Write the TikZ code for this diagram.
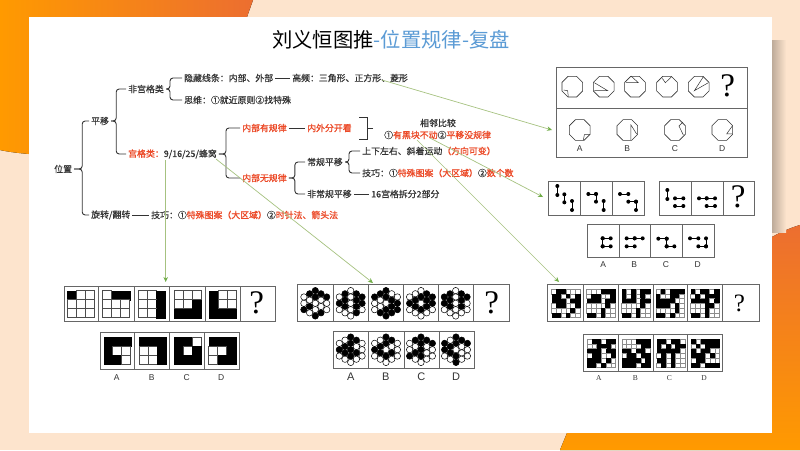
\documentclass[tikz,border=0pt]{standalone}
\usepackage{fontspec}
\usepackage{xcolor}
\setmainfont{Noto Sans CJK SC}
\newfontfamily\medfont{Noto Sans CJK SC}[RawFeature={embolden=0.5}]
\newfontfamily\strongfont{Noto Sans CJK SC}[RawFeature={embolden=1.1}]
\newfontfamily\latinfont{Liberation Sans}
\newfontfamily\seriffont{Liberation Serif}
\usetikzlibrary{arrows.meta,positioning,shapes.geometric}

\definecolor{peach}{HTML}{FDE4CD}
\definecolor{orangeA}{HTML}{FF9A00}
\definecolor{orangeB}{HTML}{EC6E30}
\definecolor{redtxt}{HTML}{EC4A28}
\definecolor{darktxt}{HTML}{333333}
\definecolor{bluetxt}{HTML}{5B9BD5}
\definecolor{greenline}{HTML}{A6C280}
\definecolor{greentip}{HTML}{70AD47}

\newcommand{\hl}[1]{{\color{redtxt}\strongfont\fontsize{8.9}{10}\selectfont #1}}
\def\gridcol{black!70}
% black and white cells, one list per row
\newcommand{\bwgrid}[4]{
	\foreach \rowbits [count=\ry from 0] in {#4}
	\foreach \b [count=\cx from 0] in \rowbits {
		\ifnum\b=1
		\draw[black,fill=black,line width=0.4pt] ({#1+\cx*#3},{#2+\ry*#3}) rectangle ++(#3,#3);
		\else
		\draw[\gridcol,fill=white,line width=0.5pt] ({#1+\cx*#3},{#2+\ry*#3}) rectangle ++(#3,#3);
		\fi
	}
}
% hexagon of 19 discs, one list per column
\newcommand{\hexdots}[3]{
	\foreach \col [count=\k from -2] in {#3}
	\foreach \b [count=\j from 0] in \col {
		\ifnum\b=1
		\filldraw[black,line width=0.5pt] ({#1+\k*5.7},{#2+(\j-(4-abs(\k))/2)*6.35}) circle (3.2);
		\else
		\draw[black,fill=white,line width=0.5pt] ({#1+\k*5.7},{#2+(\j-(4-abs(\k))/2)*6.35}) circle (3.2);
		\fi
	}
}

\begin{document}
\begin{tikzpicture}[x=1pt,y=-1pt,
	lab/.style={anchor=west,inner sep=2pt,text=darktxt,font=\medfont\fontsize{8.9}{10}\selectfont},
	redlab/.style={lab,text=redtxt,font=\strongfont\fontsize{8.9}{10}\selectfont},
	branch/.style={draw=darktxt,line width=0.9pt,rounded corners=3pt},
	pointer/.style={draw=greenline,line width=0.7pt,-{Stealth[length=5pt,width=4.5pt,color=greentip]}},
	panel/.style={draw=black!60,line width=1pt,fill=white,anchor=north west,inner sep=0pt,outer sep=0pt},
	pline/.style={draw=black!60,line width=1pt},
	octa/.style={draw=black!80,regular polygon,regular polygon sides=8,minimum size=22.4pt,inner sep=0pt,line width=0.6pt},
	octline/.style={draw=black!80,line width=0.5pt},
	dotseg/.style={draw=black,line width=0.7pt},
	qmark/.style={inner sep=0pt,font=\seriffont\fontsize{33}{33}\selectfont},
	optlab/.style={inner sep=0pt,text=darktxt,font=\latinfont\fontsize{8.5}{9}\selectfont}]

	\useasboundingbox (0,0) rectangle (800,450);

	% The background
	\fill[peach] (0,0) rectangle (800,450);
	\fill[left color=orangeA,right color=orangeB] (0,0) -- (253,0) -- (247,17) -- (29,17) -- (29,154) .. controls (18,153) and (9,152) .. (0,150) -- cycle;
	\fill[top color=orangeB,bottom color=orangeA] (772,237) .. controls (781,232) and (790,228) .. (800,225) -- (800,450) -- (560,450) -- (567,433) -- (772,433) -- cycle;
	\fill[left color=black!25!peach,right color=peach] (772,40) rectangle (786,232);
	\fill[white] (29,17) rectangle (772,433);

	% The title
	\node [inner sep=0pt,font=\fontsize{20.3}{24}\selectfont] at (391,40) (title) {刘义恒图推{\color{bluetxt}-位置规律-复盘}};

	% The tree
	\node [lab] at (52,169) (weizhi) {位置};
	\node [lab] at (89,121) (pingyi) {平移};
	\node [lab] at (89,215) (xuanzhuan) {旋转/翻转};
	\node [lab] at (149,215) (jq1) {技巧：①\hl{特殊图案（大区域）}②\hl{时针法、箭头法}};
	\node [lab] at (126,89) (feigong) {非宫格类};
	\node [lab] at (126,154) (gong) {\hl{宫格类：}9/16/25/蜂窝};
	\node [lab] at (182,78) (yincang) {隐藏线条：内部、外部};
	\node [lab] at (290,78) (gaopin) {高频：三角形、正方形、菱形};
	\node [lab] at (182,100) (siwei) {思维：①就近原则②找特殊};
	\node [redlab] at (240,128) (youguilv) {内部有规律};
	\node [redlab] at (305,128) (neiwai) {内外分开看};
	\node [redlab] at (240,178) (wuguilv) {内部无规律};
	\node [lab] at (305,162) (changgui) {常规平移};
	\node [lab] at (305,194) (feichang) {非常规平移};
	\node [lab] at (369,194) (chaifen) {16宫格拆分2部分};
	\node [lab] at (360,151) (shangxia) {上下左右、斜着运动\hl{（方向可变）}};
	\node [lab] at (360,173) (jq2) {技巧：①\hl{特殊图案（大区域）}②\hl{数个数}};
	\node [lab,anchor=center,font=\strongfont\fontsize{8.9}{10}\selectfont] at (438,123) (xianglin) {相邻比较};
	\node [lab] at (382,135) (heikuai) {①\hl{有黑块不动}②\hl{平移没规律}};

	% Tree edges
	\draw[branch] (weizhi.east) -- ++(8,0) |- (pingyi.west);
	\draw[branch] (weizhi.east) -- ++(8,0) |- (xuanzhuan.west);
	\draw[branch] (pingyi.east) -- ++(5,0) |- (feigong.west);
	\draw[branch] (pingyi.east) -- ++(5,0) |- (gong.west);
	\draw[branch] (feigong.east) -- ++(4,0) |- (yincang.west);
	\draw[branch] (feigong.east) -- ++(4,0) |- (siwei.west);
	\draw[branch] (gong.east) -- ++(7,0) |- (youguilv.west);
	\draw[branch] (gong.east) -- ++(7,0) |- (wuguilv.west);
	\draw[branch] (wuguilv.east) -- ++(6,0) |- (changgui.west);
	\draw[branch] (wuguilv.east) -- ++(6,0) |- (feichang.west);
	\draw[branch] (changgui.east) -- ++(4,0) |- (shangxia.west);
	\draw[branch] (changgui.east) -- ++(4,0) |- (jq2.west);
	\path[draw=darktxt,line width=0.9pt]
	(yincang) edge (gaopin)
	(youguilv) edge (neiwai)
	(feichang) edge (chaifen)
	(xuanzhuan) edge (jq1);

	% The square bracket
	\coordinate (kuoT) at (359,117);
	\coordinate (kuoB) at (359,139);
	\coordinate (kuoM) at (373,128);
	\draw[draw=darktxt,line width=0.9pt] (kuoT) -- ++(8,0) |- (kuoB);
	\draw[draw=darktxt,line width=0.9pt] (kuoM) -- ++(-6,0);

	% Panel with the octagons
	\node [panel,minimum width=191pt,minimum height=90pt] at (556,67) (pOct) {};
	\draw[pline] (pOct.west |- 0,108) -- (pOct.east |- 0,108);
	\foreach \n/\x in {1/572.3,2/603.7,3/635,4/667,5/698.7}
	\node [octa] at (\x,86.7) (o\n) {};
	\foreach \x/\t in {579.7/A,627.3/B,675/C,722.3/D} {
		\node [octa] at (\x,130) (oct\t) {};
		\node [optlab] at (\x,149) (lab\t) {\t};
	}
	\node [qmark] at (727.7,86) (qOct) {?};
	\draw[octline,shift={(572.3,86.7)},scale=0.333] (-26,10) -- (-14,12) -- (-12,30);
	\draw[octline,shift={(603.7,86.7)},scale=0.333] (-28,-12) -- (12,12) -- (-28,12);
	\draw[octline,shift={(635,86.7)},scale=0.333] (-27,-12) -- (10,-12) -- (-12,-32);
	\draw[octline,shift={(667,86.7)},scale=0.333] (-14,-25) -- (-5,-12) -- (14,-30);
	\draw[octline,shift={(698.7,86.7)},scale=0.333] (14,-30) -- (-13,12) -- (29,-12);
	\draw[octline,shift={(579.7,130)},scale=0.333] (11,30) -- (14,14) -- (31,14);
	\draw[octline,shift={(627.3,130)},scale=0.333] (11,30) -- (11,-15) -- (28,12);
	\draw[octline,shift={(675,130)},scale=0.333] (24,-24) -- (12,-12) -- (25,15);
	\draw[octline,shift={(722.3,130)},scale=0.333] (30,-12) -- (13,12) -- (30,12);

	% Panels with the dotted sticks
	\node [panel,minimum width=95.3pt,minimum height=33.3pt] at (548.7,181.7) (pStickA) {};
	\node [panel,minimum width=95.4pt,minimum height=33.3pt] at (659.3,181.7) (pStickB) {};
	\node [panel,minimum width=126.6pt,minimum height=32.7pt] at (587.7,224.3) (pStickC) {};
	\foreach \x in {580.7,612.3,691,723}
	\draw[pline] (\x,181.7) -- (\x,215);
	\foreach \x in {619,650.7,682.7}
	\draw[pline] (\x,224.3) -- (\x,257);
	\node [qmark] at (738.3,197) (qStick) {?};
	\foreach \x/\t in {603.3/A,634.3/B,666/C,697.7/D}
	\node [optlab] at (\x,264.7) (stick\t) {\t};
	\foreach \a/\e/\c/\d in {52/33/52/60,73/58/73/82,96/78/96/105,
		145/57/168/57,168/57/168/80,191/78/191/105,
		240/57/265/57,265/80/288/80,288/80/288/105,
		382/45/382/72,405/70/430/70,405/93/430/93,
		477/70/500/70,500/70/525/70,500/93/525/93,
		188/190/212/190,188/190/188/214,188/214/212/214,
		260/190/284/190,284/190/308/190,260/214/284/214,
		355/191/380/191,380/191/380/214,380/214/403/214,
		450/190/475/190,498/190/498/214,475/214/498/214} {
		\draw[dotseg] ({540+\a/3},{175+\e/3}) -- ({540+\c/3},{175+\d/3});
		\fill[black] ({540+\a/3},{175+\e/3}) circle (2);
		\fill[black] ({540+\c/3},{175+\d/3}) circle (2);
	}

	% Panels with the 3x3 grids
	\node [panel,minimum width=211pt,minimum height=35pt] at (64,286.7) (pGridT) {};
	\node [panel,minimum width=139pt,minimum height=36.7pt] at (100,332.3) (pGridB) {};
	\foreach \x in {98.3,134,169.7,205.3,240}
	\draw[pline] (\x,286.7) -- (\x,321.7);
	\foreach \x in {134.3,169.3,204.7}
	\draw[pline] (\x,332.3) -- (\x,369);
	\bwgrid{67.3}{290.7}{9}{{1,0,0},{0,0,0},{0,0,0}}
	\bwgrid{102.7}{290.7}{9}{{0,1,1},{0,0,0},{0,0,0}}
	\bwgrid{138.3}{290.7}{9}{{0,0,1},{0,0,1},{0,0,1}}
	\bwgrid{174}{290.7}{9}{{0,0,0},{0,0,1},{1,1,1}}
	\bwgrid{209.3}{290.7}{9}{{1,0,0},{1,0,0},{1,1,1}}
	\bwgrid{103.7}{337.3}{9}{{1,1,1},{1,0,0},{1,1,0}}
	\bwgrid{139}{337.3}{9}{{1,1,1},{0,0,1},{0,0,1}}
	\bwgrid{174}{337.3}{9}{{1,1,0},{1,0,1},{1,1,1}}
	\bwgrid{208.7}{337.3}{9}{{1,1,1},{0,0,1},{0,1,1}}
	\node [qmark] at (256.7,303) (qGrid) {?};
	\foreach \x/\t in {116.7/A,151.7/B,186.7/C,221.3/D}
	\node [optlab] at (\x,377.7) (grid\t) {\t};

	% Panels with the hexagons
	\node [panel,minimum width=211.3pt,minimum height=37pt] at (297.7,284.7) (pHexT) {};
	\node [panel,minimum width=141pt,minimum height=37.3pt] at (333.3,331) (pHexB) {};
	\foreach \x in {333.3,368.3,403.7,438.7,473.7}
	\draw[pline] (\x,284.7) -- (\x,321.7);
	\foreach \x in {368.7,404,439}
	\draw[pline] (\x,331) -- (\x,368.3);
	\hexdots{315.3}{303.3}{{0,0,1},{1,0,1,0},{1,1,0,0,1},{1,0,0,1},{1,0,0}}
	\hexdots{350.7}{303.3}{{0,1,0},{1,1,1,0},{0,0,0,0,0},{1,1,1,1},{1,1,0}}
	\hexdots{386}{303.3}{{1,0,0},{1,0,0,1},{1,1,0,1,1},{0,1,1,1},{0,1,1}}
	\hexdots{421}{303.3}{{0,1,0},{0,1,1,0},{0,1,0,1,0},{1,1,1,0},{1,1,0}}
	\hexdots{455.7}{303.3}{{1,1,0},{1,1,1,0},{0,0,0,0,0},{1,1,1,0},{1,0,0}}
	\hexdots{350.7}{349.7}{{0,1,0},{0,1,1,0},{1,1,1,1,0},{1,0,1,0},{0,0,0}}
	\hexdots{386}{349.7}{{0,1,0},{0,1,1,0},{1,1,0,1,0},{1,0,1,0},{0,0,0}}
	\hexdots{421}{349.7}{{0,0,1},{1,0,1,0},{1,1,1,1,0},{1,0,0,0},{1,0,0}}
	\hexdots{456}{349.7}{{1,1,0},{0,1,1,0},{1,1,0,1,1},{1,0,0,0},{1,0,0}}
	\node [qmark] at (491.7,303) (qHex) {?};
	\foreach \x/\t in {350.7/A,385.7/B,421.3/C,456/D}
	\node [optlab,font=\latinfont\fontsize{11}{12}\selectfont] at (\x,376.7) (hex\t) {\t};

	% Panels with the 6x6 grids
	\def\gridcol{black!45}
	\node [panel,minimum width=211.6pt,minimum height=37pt] at (547.7,284.3) (pPixT) {};
	\node [panel,minimum width=138.6pt,minimum height=36.6pt] at (583.7,334.7) (pPixB) {};
	\foreach \x in {583.7,618.7,653,687.7,722}
	\draw[pline] (\x,284.3) -- (\x,321.3);
	\foreach \x in {618.3,653,687.7}
	\draw[pline] (\x,334.7) -- (\x,371.3);
	\bwgrid{551.7}{289.3}{4.7}{{0,1,1,0,0,0},{1,1,0,1,0,1},{1,1,1,0,1,1},{0,1,1,0,0,1},{0,0,0,0,1,0},{1,1,0,1,0,0}}
	\bwgrid{586.7}{289.3}{4.7}{{0,0,0,1,1,1},{0,1,1,0,0,1},{1,1,1,0,1,1},{0,0,0,0,1,0},{0,0,0,1,0,0},{1,1,0,1,0,0}}
	\bwgrid{621.7}{289.3}{4.7}{{1,0,1,0,1,1},{1,0,1,0,1,0},{1,1,1,0,1,1},{0,0,0,0,1,0},{0,0,0,1,0,0},{1,1,0,1,0,0}}
	\bwgrid{656}{289.3}{4.7}{{0,1,0,1,1,1},{1,0,0,1,1,0},{1,1,1,1,0,0},{1,1,1,0,1,0},{0,0,0,0,1,0},{1,1,0,1,0,0}}
	\bwgrid{690.7}{289.3}{4.7}{{1,0,1,1,0,1},{0,1,0,1,1,1},{1,1,1,1,0,1},{0,0,0,1,1,0},{0,0,0,1,0,0},{1,1,0,1,0,0}}
	\bwgrid{587.3}{339.3}{4.7}{{0,1,1,0,1,1},{0,0,1,1,1,0},{1,1,1,0,1,1},{0,1,1,0,0,1},{1,1,1,0,1,0},{1,1,0,1,0,0}}
	\bwgrid{622}{339.3}{4.7}{{0,0,0,1,1,1},{0,0,0,0,1,1},{1,1,0,1,1,0},{0,1,1,0,1,1},{1,1,1,1,0,1},{1,1,1,0,1,1}}
	\bwgrid{656.7}{339.3}{4.7}{{1,1,0,1,1,0},{1,0,1,0,1,1},{1,1,1,1,1,0},{0,1,0,1,0,0},{1,1,0,1,0,0},{0,1,0,1,0,0}}
	\bwgrid{691.3}{339.3}{4.7}{{1,0,1,1,1,1},{0,1,0,1,1,1},{1,0,1,1,0,0},{1,1,1,0,1,0},{0,1,1,0,0,0},{1,1,0,1,1,1}}
	\node [qmark,font=\seriffont\fontsize{25}{25}\selectfont] at (739.5,303) (qPix) {?};
	\foreach \x/\t in {598.7/A,635.3/B,669.3/C,704/D}
	\node [optlab,font=\seriffont\fontsize{7.5}{9}\selectfont] at (\x,378.3) (pix\t) {\t};

	% The green pointers
	\coordinate (endOct) at (552,130);
	\coordinate (endStick) at (543,197);
	\coordinate (endPix) at (559,282);
	\coordinate (endGrid) at (165.7,282);
	\coordinate (endHex) at (373,283);
	\coordinate (fromGaopin) at (382,80);
	\coordinate (fromShu) at (430,138);
	\coordinate (fromYou) at (417,140);
	\coordinate (fromGong) at (165.7,160);
	\coordinate (fromWo) at (216,159);
	\draw[pointer] (fromGaopin) -- (endOct);
	\draw[pointer] (fromShu) -- (endStick);
	\draw[pointer] (fromYou) -- (endPix);
	\draw[pointer] (fromGong) -- (endGrid);
	\draw[pointer] (fromWo) -- (endHex);

\end{tikzpicture}
\end{document}
